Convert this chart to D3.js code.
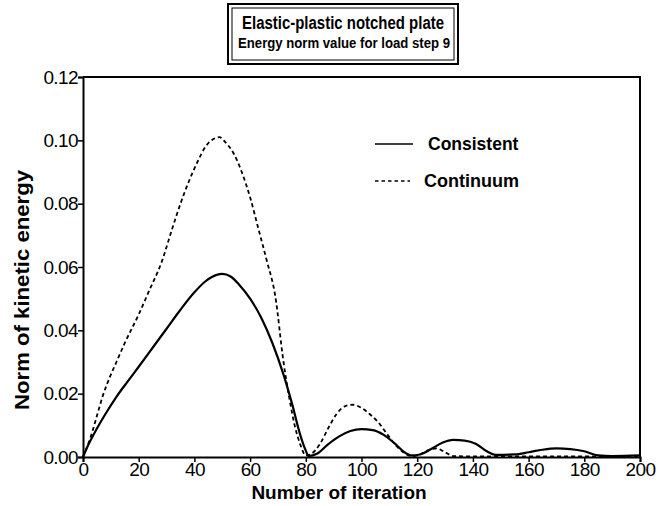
<!DOCTYPE html>
<html><head><meta charset="utf-8">
<script src="https://cdn.jsdelivr.net/npm/d3@7/dist/d3.min.js"></script>
<style>body{margin:0;background:#fff;} text{font-family:"Liberation Sans",Arial,sans-serif;}</style>
</head><body>
<svg id="c" width="662" height="506"></svg>
<script>
const titleLines = ["Elastic-plastic notched plate", "Energy norm value for load step 9"];
const xLabel = "Number of iteration";
const yLabel = "Norm of kinetic energy";
const xTicks = [0,20,40,60,80,100,120,140,160,180,200];
const yTicks = [0,0.02,0.04,0.06,0.08,0.10,0.12];
const seriesNames = ["Consistent", "Continuum"];

const consistentX = [0,2,5,8,12,16,20,25,30,35,40,44,48,50,53,56,60,64,68,72,75,78,80,81,84,88,92,96,100,104,108,112,115,118,121,125,129,133,137,141,145,148,155,160,165,170,175,180,185,190,200];
const consistentY = [0,0.004,0.009,0.0135,0.019,0.0238,0.0285,0.0345,0.0405,0.0465,0.052,0.0555,0.0575,0.0578,0.057,0.0545,0.050,0.044,0.036,0.026,0.017,0.007,0.002,0.0003,0.001,0.004,0.0065,0.0082,0.0088,0.0085,0.007,0.0042,0.0018,0.0005,0.0008,0.0025,0.0045,0.0054,0.0052,0.0042,0.0018,0.0007,0.0008,0.0015,0.0023,0.0027,0.0025,0.0018,0.0005,0.0003,0.0005];

const continuumX = [0,3,5,7,10,12,15,20,24,28,32,35,38,41,44,47,49,51,54,57,60,63,66,69,72,74,76,78,80,82,85,88,91,94,97,100,103,106,109,112,115,118,121,124,127,130,133,140,200];
const continuumY = [0,0.007,0.013,0.019,0.026,0.030,0.036,0.045,0.053,0.061,0.072,0.080,0.087,0.093,0.098,0.1005,0.101,0.0995,0.096,0.090,0.082,0.072,0.062,0.051,0.030,0.019,0.010,0.004,0.0005,0.001,0.004,0.009,0.0135,0.016,0.0165,0.0155,0.0135,0.011,0.0075,0.004,0.0015,0.0003,0.0008,0.0022,0.0027,0.0015,0.0003,0.0002,0.0002];

const svg = d3.select("#c");
const L = 83, R = 640, T = 77, B = 457;
const x = d3.scaleLinear().domain([0,200]).range([L,R]);
const y = d3.scaleLinear().domain([0,0.12]).range([B,T]);

// frame top & right
svg.append("path").attr("d",`M${L},${T}H${R}V${B}`).attr("fill","none").attr("stroke","#000").attr("stroke-width",2);

const xAxis = svg.append("g").attr("transform",`translate(0,${B})`)
  .call(d3.axisBottom(x).tickValues(xTicks).tickFormat(d3.format("d")).tickSize(5).tickPadding(0));
const yAxis = svg.append("g").attr("transform",`translate(${L},0)`)
  .call(d3.axisLeft(y).tickValues(yTicks).tickFormat(d3.format(".2f")).tickSize(5).tickPadding(0));
[xAxis,yAxis].forEach(g=>{
  g.select(".domain").attr("stroke-width",2).attr("stroke","#000");
  g.selectAll(".tick line").attr("stroke-width",1.5).attr("stroke","#000");
  g.selectAll(".tick text").attr("font-size",19).attr("fill","#000").attr("font-family","Liberation Sans, Arial, sans-serif").attr("letter-spacing","-0.6px");
});
xAxis.selectAll(".tick text").attr("dy","0.72em");

const line = d3.line().x(d=>x(d[0])).y(d=>y(d[1])).curve(d3.curveMonotoneX);
const cons = consistentX.map((v,i)=>[v,consistentY[i]]);
const cont = continuumX.map((v,i)=>[v,continuumY[i]]);
svg.append("path").datum(cont).attr("d",line).attr("fill","none").attr("stroke","#000").attr("stroke-width",1.8).attr("stroke-dasharray","4,3");
svg.append("path").datum(cons).attr("d",line).attr("fill","none").attr("stroke","#000").attr("stroke-width",2.2);

// legend
const lg = svg.append("g");
lg.append("line").attr("x1",375).attr("x2",413).attr("y1",144).attr("y2",144).attr("stroke","#000").attr("stroke-width",1.6);
lg.append("line").attr("x1",375).attr("x2",410).attr("y1",181).attr("y2",181).attr("stroke","#000").attr("stroke-width",1.6).attr("stroke-dasharray","3.5,3");
lg.append("text").attr("x",428).attr("y",144).attr("dy","0.35em").attr("font-size",17.5).attr("font-weight","bold").text(seriesNames[0]);
lg.append("text").attr("x",424).attr("y",181).attr("dy","0.35em").attr("font-size",18).attr("font-weight","bold").text(seriesNames[1]);

// axis labels
svg.append("text").attr("x",339).attr("y",492).attr("dy","0.35em").attr("text-anchor","middle").attr("font-size",19).attr("font-weight","bold").text(xLabel);
svg.append("text").attr("transform",`translate(22,290) rotate(-90)`).attr("text-anchor","middle").attr("dy","0.35em").attr("font-size",20).attr("font-weight","bold")
  .attr("textLength",240).attr("lengthAdjust","spacingAndGlyphs").text(yLabel);

// title box
const tb = svg.append("g");
tb.append("rect").attr("x",228).attr("y",4).attr("width",230).attr("height",60).attr("fill","#fff").attr("stroke","#000").attr("stroke-width",2);
tb.append("rect").attr("x",232).attr("y",8).attr("width",222).attr("height",52).attr("fill","none").attr("stroke","#000").attr("stroke-width",1);
tb.append("text").attr("x",343).attr("y",23).attr("dy","0.35em").attr("text-anchor","middle").attr("font-size",17.5).attr("font-weight","bold")
  .attr("textLength",202).attr("lengthAdjust","spacingAndGlyphs").text(titleLines[0]);
tb.append("text").attr("x",344).attr("y",43).attr("dy","0.35em").attr("text-anchor","middle").attr("font-size",14.5).attr("font-weight","bold")
  .attr("textLength",212).attr("lengthAdjust","spacingAndGlyphs").text(titleLines[1]);
</script>
</body></html>
